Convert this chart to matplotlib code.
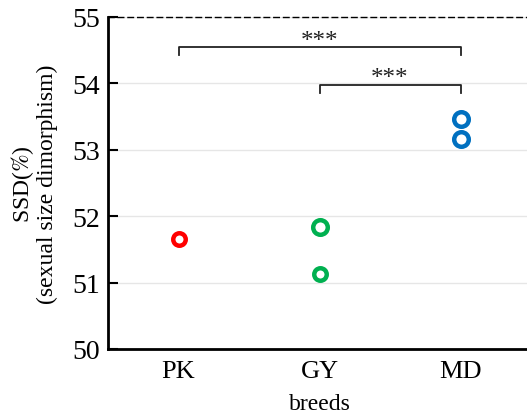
import matplotlib
matplotlib.use("Agg")
import matplotlib.pyplot as plt

plt.rcParams['font.family'] = ['Liberation Serif', 'DejaVu Serif']
plt.rcParams['mathtext.fontset'] = 'stix'

categories = ["PK", "GY", "MD"]
pk_values = [51.65]
gy_values = [51.83, 51.13]
md_values = [53.47, 53.17]
series = [pk_values, gy_values, md_values]
colors = ["#FF0000", "#00B050", "#0070C0"]
marker_sizes = [[9], [10.5, 9], [10.5, 10.5]]

brackets = [(0, 2, 54.55, "***"), (1, 2, 53.98, "***")]
yticks = [50, 51, 52, 53, 54, 55]

fig = plt.figure(figsize=(5.27, 4.14), dpi=100)
ax = fig.add_axes([108/527, 1 - 350/414, (531 - 108)/527, (350 - 18)/414])

x = list(range(1, len(categories) + 1))
for i, (vals, c) in enumerate(zip(series, colors)):
    for v, ms in zip(vals, marker_sizes[i]):
        ax.plot([x[i]], [v], marker='o', linestyle='none', markersize=ms,
                markerfacecolor='white', markeredgecolor=c, markeredgewidth=3.2,
                zorder=3, clip_on=False)

for a, b, y, label in brackets:
    h = 0.12
    ax.plot([x[a], x[a], x[b], x[b]], [y - h, y, y, y - h], color='#222222', lw=1.3)
    ax.text((x[a] + x[b]) / 2, y - 0.07, label, ha='center', va='bottom',
            fontsize=18, color='#222222')

ax.set_xlim(0.5, 3.5)
ax.set_ylim(50, 55)
ax.set_yticks(yticks)
ax.set_xticks(x)
ax.set_xticklabels(categories)
ax.grid(axis='y', color='#e6e6e6', lw=1)
ax.set_axisbelow(True)

ax.spines['right'].set_visible(False)
ax.spines['top'].set_linestyle((0, (4, 3)))
ax.spines['top'].set_linewidth(1)
ax.spines['left'].set_linewidth(2)
ax.spines['bottom'].set_linewidth(2)

ax.tick_params(axis='y', direction='in', length=7, width=1.5, labelsize=20, pad=6)
ax.tick_params(axis='x', length=0, labelsize=19, pad=8)

ax.set_xlabel("breeds", fontsize=17, labelpad=8)
ax.set_ylabel("SSD($\\%$)\n(sexual size dimorphism)", fontsize=17, labelpad=10, linespacing=1.05)

fig.savefig("out.png", dpi=100)
